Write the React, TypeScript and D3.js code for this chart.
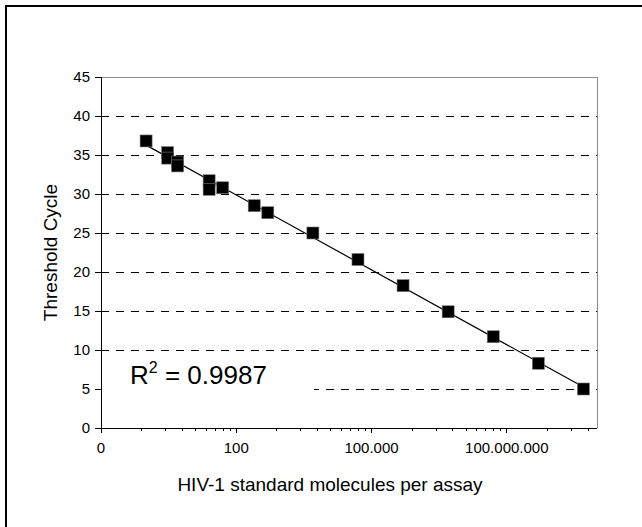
import * as d3 from 'd3';
import React, { useRef, useEffect } from 'react';

// standard copies per assay and the threshold cycle read for each
const copies = [1, 3, 3, 5, 5, 25, 25, 50, 250, 500, 5000, 50000, 500000, 5000000, 50000000, 500000000, 5000000000];
const thresholdCycle = [36.8, 35.3, 34.6, 34.1, 33.6, 31.7, 30.6, 30.8, 28.5, 27.6, 25.0, 21.6, 18.25, 14.9, 11.7, 8.3, 5.0];

const xMajorTicks = [0.1, 100, 100000, 100000000];
const xTickLabels = ['0', '100', '100.000', '100.000.000'];
const yTicks = [0, 5, 10, 15, 20, 25, 30, 35, 40, 45];
const rSquaredLabel = '0.9987';

function Chart() {
  const ref = useRef(null);

  useEffect(() => {
    const width = 642;
    const height = 527;
    const left = 101, right = 597, top = 77, bottom = 428;
    const font = 'Arial, "Liberation Sans", sans-serif';

    const svg = d3.select(ref.current);
    svg.selectAll('*').remove();
    svg.attr('width', width).attr('height', height);

    svg.append('rect')
      .attr('width', width).attr('height', height)
      .attr('fill', '#fff');

    // outer chart frame (runs past the picture on the right and bottom)
    svg.append('rect')
      .attr('x', 6).attr('y', 6)
      .attr('width', 700).attr('height', 600)
      .attr('fill', 'none')
      .attr('stroke', '#000')
      .attr('stroke-width', 2);

    const x = d3.scaleLog().domain([0.1, 1e10]).range([left, right]);
    const y = d3.scaleLinear().domain([0, 45]).range([bottom, top]);

    // dashed gridlines
    svg.append('g')
      .attr('shape-rendering', 'crispEdges')
      .selectAll('line')
      .data(yTicks.filter(t => t > 0 && t < 45))
      .enter()
      .append('line')
      .attr('x1', left).attr('x2', right)
      .attr('y1', d => y(d)).attr('y2', d => y(d))
      .attr('stroke', '#000')
      .attr('stroke-width', 1)
      .attr('stroke-dasharray', '8,7');

    // plot area border (top / right)
    svg.append('path')
      .attr('d', `M${left},${y(45)}H${right}V${bottom}`)
      .attr('fill', 'none')
      .attr('stroke', '#8c8c8c')
      .attr('stroke-width', 1)
      .attr('shape-rendering', 'crispEdges');

    // log-linear trendline fitted from the points
    const lx = copies.map(c => Math.log10(c));
    const mx = d3.mean(lx);
    const my = d3.mean(thresholdCycle);
    const slope = d3.sum(lx, (v, i) => (v - mx) * (thresholdCycle[i] - my)) / d3.sum(lx, v => (v - mx) * (v - mx));
    const icpt = my - slope * mx;
    const ends = d3.extent(copies);
    const line = d3.line().x(d => x(d)).y(d => y(icpt + slope * Math.log10(d)));
    svg.append('path')
      .attr('d', line(ends))
      .attr('fill', 'none')
      .attr('stroke', '#000')
      .attr('stroke-width', 1.2);

    // square markers
    const s = 12;
    svg.append('g')
      .selectAll('rect')
      .data(copies)
      .enter()
      .append('rect')
      .attr('x', d => x(d) - s / 2)
      .attr('y', (d, i) => y(thresholdCycle[i]) - s / 2)
      .attr('width', s).attr('height', s)
      .attr('fill', '#000')
      .attr('stroke', '#777')
      .attr('stroke-width', 0.6);

    // R squared label on a white box
    svg.append('rect')
      .attr('x', left + 1).attr('y', 354)
      .attr('width', 212).attr('height', 42)
      .attr('fill', '#fff');
    const r2 = svg.append('text')
      .attr('x', 130)
      .attr('y', 384)
      .attr('font-family', font)
      .attr('font-size', 26);
    r2.append('tspan').text('R');
    r2.append('tspan').attr('font-size', 16).attr('dy', -11).text('2');
    r2.append('tspan').attr('dy', 11).text(' = ' + rSquaredLabel);

    // y axis
    const yAxis = svg.append('g').attr('shape-rendering', 'crispEdges');
    yAxis.append('line')
      .attr('x1', left).attr('x2', left)
      .attr('y1', y(45)).attr('y2', bottom)
      .attr('stroke', '#000');
    yAxis.selectAll('line.tick')
      .data(yTicks)
      .enter()
      .append('line')
      .attr('class', 'tick')
      .attr('x1', left - 6).attr('x2', left)
      .attr('y1', d => y(d)).attr('y2', d => y(d))
      .attr('stroke', '#000');
    yAxis.selectAll('text')
      .data(yTicks)
      .enter()
      .append('text')
      .attr('x', left - 11)
      .attr('y', d => y(d))
      .attr('dy', '0.35em')
      .attr('text-anchor', 'end')
      .attr('font-family', font)
      .attr('font-size', 15)
      .text(d => d);

    // x axis, log base 1000 with minor ticks at k^3 of each major
    const xAxis = svg.append('g').attr('shape-rendering', 'crispEdges');
    xAxis.append('line')
      .attr('x1', left).attr('x2', right)
      .attr('y1', bottom).attr('y2', bottom)
      .attr('stroke', '#000');
    const minor = [];
    xMajorTicks.forEach(m => {
      for (let k = 2; k <= 9; k++) {
        const v = m * k * k * k;
        if (v < 1e10) minor.push(v);
      }
    });
    xAxis.selectAll('line.minor')
      .data(minor)
      .enter()
      .append('line')
      .attr('class', 'minor')
      .attr('x1', d => x(d)).attr('x2', d => x(d))
      .attr('y1', bottom).attr('y2', bottom + 3)
      .attr('stroke', '#000');
    xAxis.selectAll('line.major')
      .data(xMajorTicks)
      .enter()
      .append('line')
      .attr('class', 'major')
      .attr('x1', d => x(d)).attr('x2', d => x(d))
      .attr('y1', bottom).attr('y2', bottom + 5)
      .attr('stroke', '#000');
    xAxis.selectAll('text')
      .data(xMajorTicks)
      .enter()
      .append('text')
      .attr('x', d => x(d))
      .attr('y', bottom + 25)
      .attr('text-anchor', 'middle')
      .attr('font-family', font)
      .attr('font-size', 15)
      .text((d, i) => xTickLabels[i]);

    // axis titles
    svg.append('text')
      .attr('x', 330)
      .attr('y', bottom + 63)
      .attr('text-anchor', 'middle')
      .attr('font-family', font)
      .attr('font-size', 19)
      .text('HIV-1 standard molecules per assay');

    svg.append('text')
      .attr('transform', `translate(57,${(top + bottom) / 2}) rotate(-90)`)
      .attr('text-anchor', 'middle')
      .attr('font-family', font)
      .attr('font-size', 19)
      .text('Threshold Cycle');
  });

  return (
    <div className="chart">
      <svg ref={ref} style={{ position: 'absolute', left: 0, top: 0 }}></svg>
    </div>
  );
}

export default function App() {
  return <Chart />;
}
